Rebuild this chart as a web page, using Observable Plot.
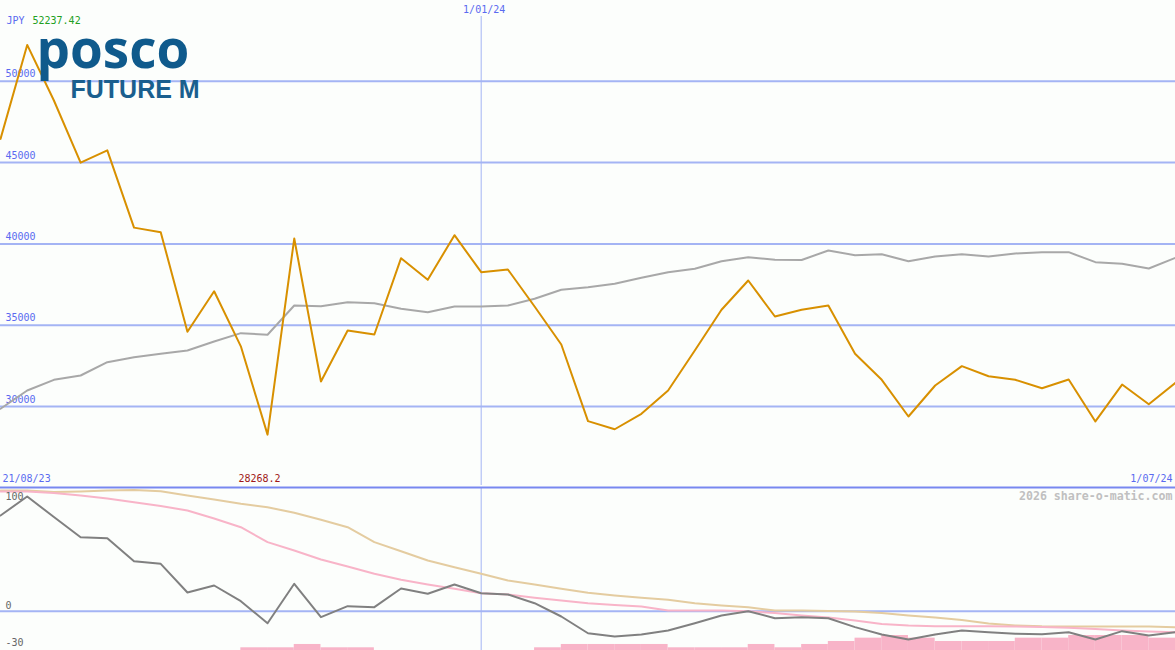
<!DOCTYPE html>
<html><head><meta charset="utf-8">
<script src="https://cdn.jsdelivr.net/npm/d3@7"></script>
<script src="https://cdn.jsdelivr.net/npm/@observablehq/plot@0.6"></script>
<style>
html,body{margin:0;padding:0;background:#fcfefc;}
#chart{width:1175px;height:650px;overflow:hidden;background:#fcfefc;}
#chart svg{display:block;}
</style></head><body><div id="chart"></div>
<script>
const startDate = "2023-08-28";
const priceValues = [46460, 52237.42, 48820, 45000, 45750, 41000, 40720, 34600, 37090, 33700, 28268.2, 40330, 31540, 34670, 34430, 39120, 37790, 40535, 38260, 38425, 36150, 33810, 29100, 28600, 29550, 30985, 33440, 35950, 37750, 35535, 35950, 36210, 33240, 31640, 29385, 31290, 32480, 31860, 31640, 31125, 31660, 29080, 31350, 30140, 31460];
const maValues = [29860, 30985, 31640, 31905, 32725, 33030, 33240, 33445, 34000, 34510, 34410, 36210, 36170, 36415, 36350, 36010, 35800, 36150, 36150, 36210, 36625, 37180, 37340, 37545, 37915, 38260, 38470, 38935, 39180, 39020, 39010, 39595, 39305, 39365, 38935, 39225, 39365, 39225, 39410, 39490, 39490, 38875, 38775, 38490, 39145];
const oscValues = [83.4, 100, 82.1, 64.5, 63.6, 43.6, 41.3, 16.3, 22.4, 8.7, -10.5, 23.9, -5.2, 4.4, 3.5, 19.8, 15.2, 23.3, 15.7, 14.6, 7.0, -4.6, -19.2, -22.1, -20.3, -16.8, -10.5, -3.7, 0, -6.1, -5.2, -6.1, -13.9, -20.3, -24.7, -20.3, -16.8, -18.3, -19.7, -20.1, -18.3, -24.7, -17.4, -21.2, -18.3];
const pinkValues = [104.4, 104.4, 103, 100.9, 98.3, 95, 91.7, 87.8, 80.8, 73.2, 60.2, 52.9, 45.1, 39, 32.6, 27.4, 23.3, 19.5, 15.7, 14.6, 11.7, 9.3, 7, 5.4, 4.1, 0.6, 0.6, 0.6, 0, -1.6, -3.7, -5.5, -8.1, -11.2, -12.5, -13.1, -13.1, -13.1, -13.3, -13.8, -14.5, -15.5, -16.8, -17.7, -18.3];
const tanValues = [105.2, 105.2, 103.9, 104.4, 105.2, 105.7, 104.6, 100.9, 97.4, 93.6, 90.7, 85.8, 79.7, 73.2, 60.2, 52.3, 44.2, 38.4, 32.6, 26.8, 23.3, 19.5, 16, 13.7, 11.7, 9.9, 7, 5, 3.5, 0.6, 0.6, 0.2, -0.3, -1.6, -3.7, -5.5, -7.7, -10.7, -12.5, -13.2, -13.3, -13.3, -13.3, -13.3, -13.9];
const barTops = [null, null, null, null, null, null, null, null, null, -31.9, -31.9, -29.0, -31.9, -31.9, null, null, null, null, null, null, -31.9, -29.0, -29.0, -29.0, -29.0, -31.9, -31.9, -31.9, -29.0, -31.9, -29.0, -26.4, -23.5, -21.2, -23.5, -26.4, -26.4, -26.4, -23.5, -23.5, -21.2, -21.2, -21.2, -23.5];
const priceTicks = [30000, 35000, 40000, 45000, 50000];
const oscTicks = [100, 0, -30];
const markerDate = "2024-01-01";
const markerLabel = "1/01/24";
const startLabel = "21/08/23";
const endLabel = "1/07/24";
const currency = "JPY";
const watermark = "2026 share-o-matic.com";
const logoTop = "posco";
const logoBottom = "FUTURE M";

const priceDomain = [25141, 54969];
const oscDomain = [-34.26, 107.85];

const dates = priceValues.map((_, i) => d3.utcWeek.offset(new Date(startDate), i));
const data = dates.map((d, i) => ({date: d, price: priceValues[i], ma: maValues[i], osc: oscValues[i], pink: pinkValues[i], tan: tanValues[i]}));
const bars = barTops.map((t, i) => ({d0: dates[i], d1: dates[i + 1], top: t})).filter(b => b.top != null);
const jan1 = new Date(markerDate);
const minIdx = d3.minIndex(priceValues);
const maxIdx = d3.maxIndex(priceValues);

const mono = "DejaVu Sans Mono";
const blue = "#5a6af0";
const grid = "#a4b4f4";
const xScale = {type: "utc", domain: [dates[0], dates[dates.length - 1]], axis: null};
const oscLabelDy = [0, -5, -3];

const topPlot = Plot.plot({
  width: 1175, height: 485, margin: 0,
  style: {background: "transparent", fontFamily: mono, fontSize: "10px"},
  x: xScale,
  y: {domain: priceDomain, axis: null},
  marks: [
    Plot.ruleY(priceTicks, {y: d => d, stroke: grid, strokeWidth: 2}),
    Plot.text(priceTicks, {y: d => d, text: d => String(d), frameAnchor: "left", textAnchor: "start", lineAnchor: "middle", dx: 5, dy: -7, fill: blue}),
    Plot.ruleX([jan1], {x: d => d, stroke: grid, strokeWidth: 1, insetTop: 16}),
    Plot.line(data, {x: "date", y: "ma", stroke: "#a8a8a8", strokeWidth: 2}),
    Plot.line(data, {x: "date", y: "price", stroke: "#d89000", strokeWidth: 2}),
    Plot.text([markerLabel], {x: () => jan1, text: d => d, frameAnchor: "top", lineAnchor: "middle", dy: 9, dx: 3, fill: blue}),
    Plot.text([startLabel], {text: d => d, frameAnchor: "bottom-left", textAnchor: "start", lineAnchor: "middle", dx: 2, dy: -7, fill: blue}),
    Plot.text([endLabel], {text: d => d, frameAnchor: "bottom-right", textAnchor: "end", lineAnchor: "middle", dx: -3, dy: -7, fill: blue}),
    Plot.text([minIdx], {x: i => dates[i], text: i => priceValues[i].toFixed(1), frameAnchor: "bottom", lineAnchor: "middle", dx: -8, dy: -7, fill: "#a01818"}),
    Plot.text([currency], {text: d => d, frameAnchor: "top-left", textAnchor: "start", lineAnchor: "middle", dx: 6, dy: 20, fill: blue}),
    Plot.text([maxIdx], {text: i => priceValues[i].toFixed(2), frameAnchor: "top-left", textAnchor: "start", lineAnchor: "middle", dx: 32, dy: 20, fill: "#22a022"}),
    Plot.text([logoTop], {text: d => d, frameAnchor: "top-left", textAnchor: "start", lineAnchor: "bottom", dx: 36, dy: 67, fontSize: 53, fontWeight: 700, fontFamily: "Open Sans", fill: "#0f5a8c"}),
    Plot.text([logoBottom], {text: d => d, frameAnchor: "top-left", textAnchor: "start", lineAnchor: "bottom", dx: 70, dy: 97, fontSize: 25, fontWeight: 700, fontFamily: "Liberation Sans", fill: "#1a5f8e"})
  ]
});

const bottomPlot = Plot.plot({
  width: 1175, height: 165, marginTop: 2, marginLeft: 0, marginRight: 0, marginBottom: 0,
  style: {background: "transparent", fontFamily: mono, fontSize: "10px"},
  x: xScale,
  y: {domain: oscDomain, axis: null},
  marks: [
    Plot.rect(bars, {x1: "d0", x2: "d1", y1: oscDomain[0], y2: "top", fill: "#f8b4c8"}),
    Plot.ruleY([0], {stroke: grid, strokeWidth: 2}),
    Plot.ruleX([jan1], {x: d => d, stroke: grid, strokeWidth: 1}),
    Plot.line(data, {x: "date", y: "tan", stroke: "#e4cca0", strokeWidth: 2}),
    Plot.line(data, {x: "date", y: "pink", stroke: "#f8b4c8", strokeWidth: 2}),
    Plot.line(data, {x: "date", y: "osc", stroke: "#808080", strokeWidth: 2}),
    ...oscTicks.map((t, i) => Plot.text([t], {y: d => d, text: d => String(d), frameAnchor: "left", textAnchor: "start", lineAnchor: "middle", dx: 5, dy: oscLabelDy[i], fill: "#666666"})),
    Plot.frame({anchor: "top", stroke: "#7888f0", strokeWidth: 2}),
    Plot.text([watermark], {text: d => d, frameAnchor: "top-right", textAnchor: "end", lineAnchor: "middle", dx: -3, dy: 9, fill: "#c0c0c0", fontWeight: 700, fontSize: 11.6})
  ]
});

const el = document.getElementById("chart");
el.appendChild(topPlot);
el.appendChild(bottomPlot);
</script>
</body></html>
